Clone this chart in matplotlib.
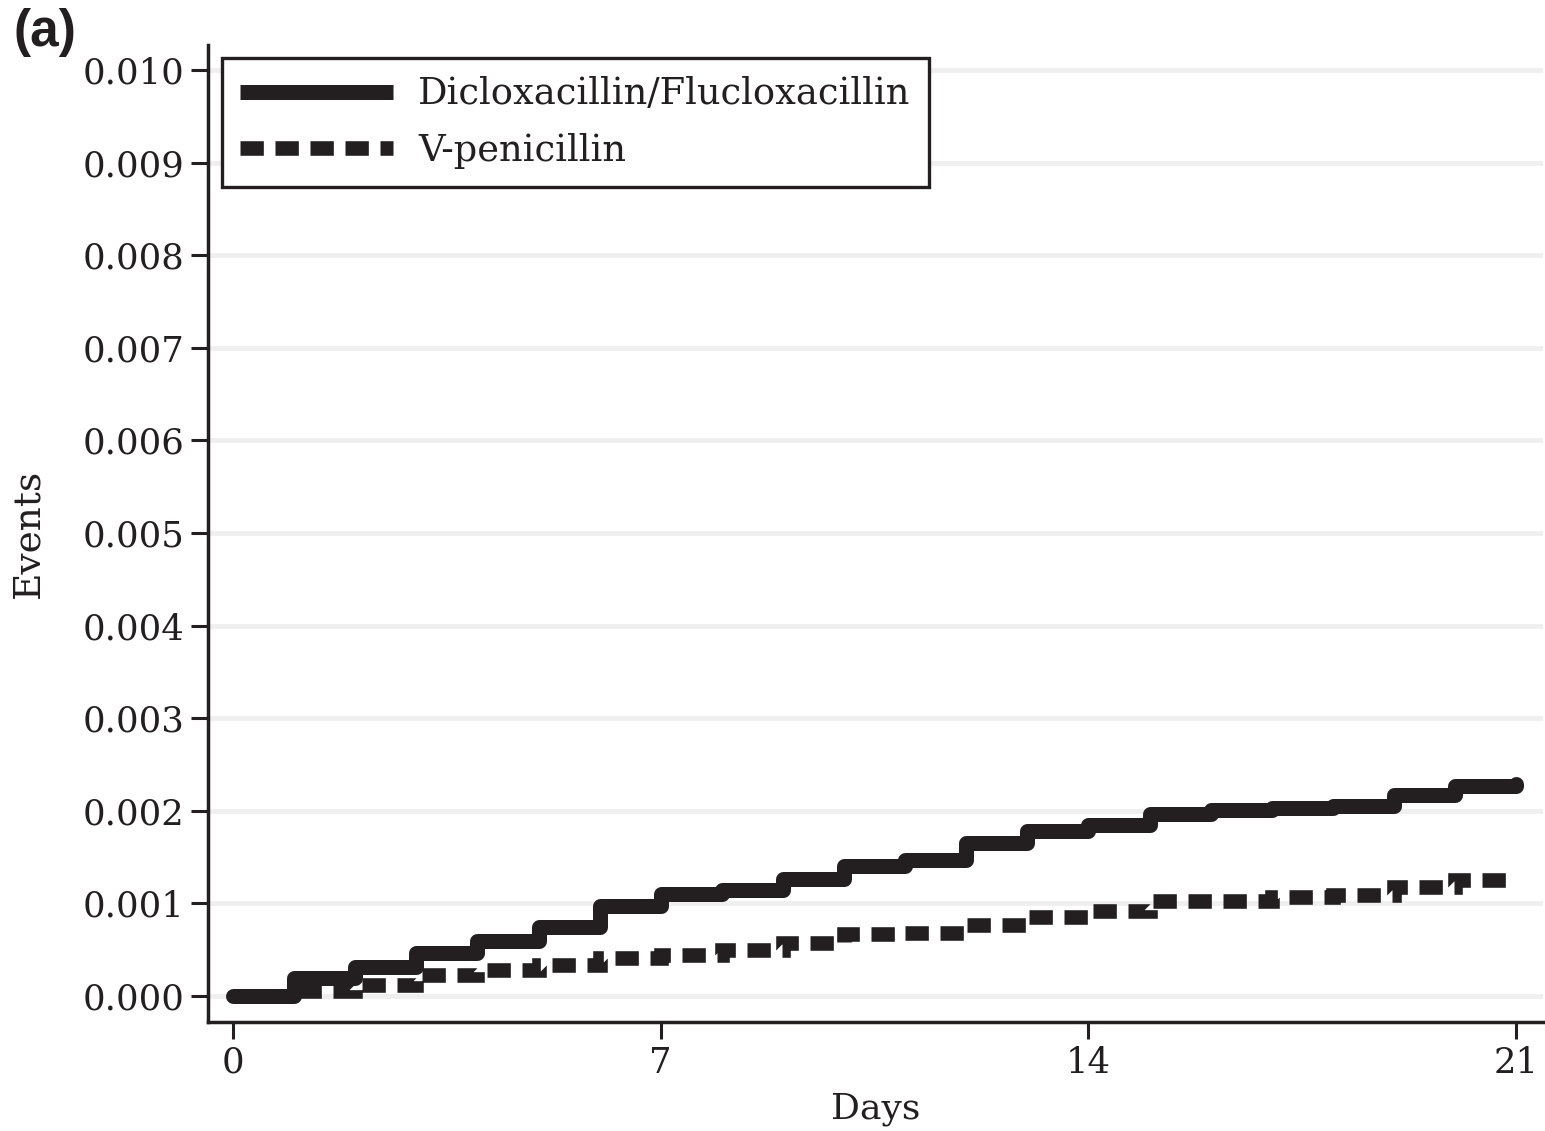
import matplotlib.pyplot as plt

# Data
days = list(range(22))
diclox = [0.0, 0.00019, 0.00031, 0.00046, 0.00059, 0.00075, 0.00097, 0.00110,
          0.00114, 0.00126, 0.00140, 0.00147, 0.00165, 0.00178, 0.00185, 0.00197,
          0.00201, 0.00203, 0.00205, 0.00217, 0.00227, 0.00229]
vpen = [0.0, 0.00005, 0.00012, 0.00023, 0.00028, 0.00033, 0.00041, 0.00044,
        0.00050, 0.00057, 0.00067, 0.00068, 0.00077, 0.00085, 0.00092, 0.00103,
        0.00103, 0.00107, 0.00109, 0.00118, 0.00125, 0.00126]
xticks = [0, 7, 14, 21]
yticks = [0.000, 0.001, 0.002, 0.003, 0.004, 0.005, 0.006, 0.007, 0.008, 0.009, 0.010]

ink = '#231f20'
plt.rcParams['font.family'] = ['DejaVu Serif']

fig = plt.figure(figsize=(15.45, 11.31), dpi=100)
ax = fig.add_axes([0.1346, 0.0964, 0.8641, 0.8638])

ax.step(days, diclox, where='post', color=ink, lw=10.8,
        solid_capstyle='round', solid_joinstyle='round',
        label='Dicloxacillin/Flucloxacillin', zorder=3)
ax.step(days, vpen, where='post', color=ink, lw=10.5,
        linestyle=(0, (1.6, 0.8)), dash_capstyle='butt', dash_joinstyle='miter',
        label='V-penicillin', zorder=2)

ax.set_xlim(-0.41, 21.44)
ax.set_ylim(-0.00028, 0.01027)
ax.set_xticks(xticks)
ax.set_yticks(yticks)
ax.set_yticklabels(['%.3f' % v for v in yticks])
ax.grid(axis='y', color='#efefef', lw=3.5, zorder=0)
ax.set_axisbelow(True)

for s in ['top', 'right']:
    ax.spines[s].set_visible(False)
for s in ['left', 'bottom']:
    ax.spines[s].set_linewidth(2.5)
    ax.spines[s].set_color(ink)
ax.tick_params(axis='both', length=12, width=2.2, color=ink, labelsize=25.5,
               labelcolor=ink, pad=5)

ax.set_xlabel('Days', fontsize=26, color=ink, labelpad=9)
ax.set_ylabel('Events', fontsize=27, color=ink, labelpad=26)

leg = ax.legend(loc='upper left', bbox_to_anchor=(222 / 1545, 1 - 58 / 1131),
                bbox_transform=fig.transFigure, borderaxespad=0, fontsize=26.5,
                frameon=True, fancybox=False, framealpha=1, handlelength=4.15,
                handletextpad=0.68, labelspacing=0.56, borderpad=0.5)
leg.get_frame().set_edgecolor(ink)
leg.get_frame().set_linewidth(2.4)
leg.get_lines()[0].set_solid_capstyle('butt')
for t in leg.get_texts():
    t.set_color(ink)

fig.text(14 / 1545, 1 - 8 / 1131, '(a)', fontsize=37, fontweight='bold',
         family='Liberation Sans', color=ink, ha='left', va='top')

fig.savefig('out.png', dpi=100)
